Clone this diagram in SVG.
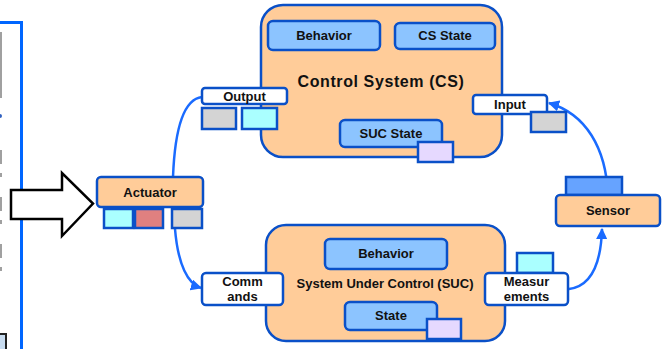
<svg xmlns="http://www.w3.org/2000/svg" width="662" height="349" viewBox="0 0 662 349">
<defs>
<style>
.big{fill:#FFCC99;stroke:#0A50C8;stroke-width:2.5}
.inner{fill:#8CC4FF;stroke:#0A50C8;stroke-width:2.5}
.lbl{fill:#FFFFFF;stroke:#0A50C8;stroke-width:2.5}
.sq{stroke:#0A50C8;stroke-width:2.5}
.t{font-family:"Liberation Sans",Arial,sans-serif;font-weight:bold;fill:#111;text-anchor:middle;font-size:13px}
.conn{fill:none;stroke:#1A6BFF;stroke-width:2.5}
</style>
<marker id="ah" viewBox="0 0 10 10" refX="9" refY="5" markerWidth="4.5" markerHeight="4.5" orient="auto-start-reverse" markerUnits="strokeWidth">
<path d="M0,0 L10,5 L0,10 z" fill="#1A6BFF"/>
</marker>
</defs>
<rect width="662" height="349" fill="#FFFFFF"/>

<g id="left-panel">
<line x1="1" y1="32" x2="1" y2="98" stroke="#A0A0A0" stroke-width="2"/>
<line x1="1" y1="150" x2="1" y2="280" stroke="#A0A0A0" stroke-width="2" stroke-dasharray="14 9 4 20"/>
<circle cx="0" cy="116" r="2" fill="#3060C0"/>
<polyline points="0,22.5 21.5,22.5 21.5,349" fill="none" stroke="#0066FF" stroke-width="3"/>
<rect x="-2" y="334" width="8" height="17" fill="#C8DCF0" stroke="#222" stroke-width="2"/>
</g>

<g id="big-arrow">
<polygon points="11,190 62,190 62,173 93,203.5 62,236 62,219 11,219" fill="#FFFFFF" stroke="#000" stroke-width="2.5"/>
</g>

<g id="connectors">
<path class="conn" d="M173,177 C175,125 185,99 202,97"/>
<path class="conn" d="M175,229 C178,265 188,284 201,288" marker-end="url(#ah)"/>
<path class="conn" d="M569,289 C592,286 601,262 602,229" marker-end="url(#ah)"/>
<path class="conn" d="M608,195 C606,148 586,114 549,103" marker-end="url(#ah)"/>
</g>

<g id="control-system">
<rect class="big" x="261" y="5" width="241" height="152" rx="22"/>
<rect class="inner" x="268" y="21" width="112" height="29" rx="5"/>
<text class="t" x="324" y="40">Behavior</text>
<rect class="inner" x="395" y="23" width="100" height="26" rx="5"/>
<text class="t" x="445" y="40">CS State</text>
<text class="t" x="381" y="87" style="font-size:16px;letter-spacing:0.6px">Control System (CS)</text>
<rect class="inner" x="340" y="120" width="102" height="27" rx="5"/>
<text class="t" x="391" y="138">SUC State</text>
<rect class="sq" x="418" y="142" width="35" height="20" fill="#E6D9FF"/>
</g>

<g id="output">
<rect class="lbl" x="202" y="88" width="85" height="16" rx="3"/>
<text class="t" x="244.5" y="100.5">Output</text>
<rect class="sq" x="202" y="108" width="34" height="21" fill="#D4D4D4"/>
<rect class="sq" x="242" y="108" width="35" height="21" fill="#AAFFFF"/>
</g>

<g id="input">
<rect class="lbl" x="473" y="95" width="74" height="19" rx="3"/>
<text class="t" x="510" y="109">Input</text>
<rect class="sq" x="531" y="112" width="35" height="20" fill="#D4D4D4"/>
</g>

<g id="actuator">
<rect class="big" x="97" y="177" width="106" height="30" rx="4"/>
<text class="t" x="150" y="197">Actuator</text>
<rect class="sq" x="104" y="209" width="29" height="19" fill="#AAFFFF"/>
<rect class="sq" x="135" y="209" width="28" height="19" fill="#E08080"/>
<rect class="sq" x="172" y="209" width="30" height="19" fill="#D4D4D4"/>
</g>

<g id="sensor">
<rect class="sq" x="566" y="177" width="56" height="18" fill="#66A3FF"/>
<rect class="big" x="556" y="195" width="104" height="31" rx="4"/>
<text class="t" x="608" y="215">Sensor</text>
</g>

<g id="system-under-control">
<rect class="big" x="266" y="225" width="239" height="116" rx="20"/>
<rect class="inner" x="325" y="239" width="122" height="30" rx="5"/>
<text class="t" x="386" y="258">Behavior</text>
<text class="t" x="385" y="288">System Under Control (SUC)</text>
<rect class="inner" x="345" y="302" width="92" height="28" rx="5"/>
<text class="t" x="391" y="320">State</text>
<rect class="sq" x="427" y="319" width="34" height="20" fill="#E6D9FF"/>
</g>

<g id="commands">
<rect class="lbl" x="202" y="273" width="81" height="32" rx="4"/>
<text class="t" x="242.5" y="286">Comm</text>
<text class="t" x="242.5" y="301">ands</text>
</g>

<g id="measurements">
<rect class="sq" x="517" y="253" width="36" height="20" fill="#AAFFFF"/>
<rect class="lbl" x="485" y="273" width="83" height="32" rx="4"/>
<text class="t" x="526.5" y="286">Measur</text>
<text class="t" x="526.5" y="301">ements</text>
</g>
</svg>
